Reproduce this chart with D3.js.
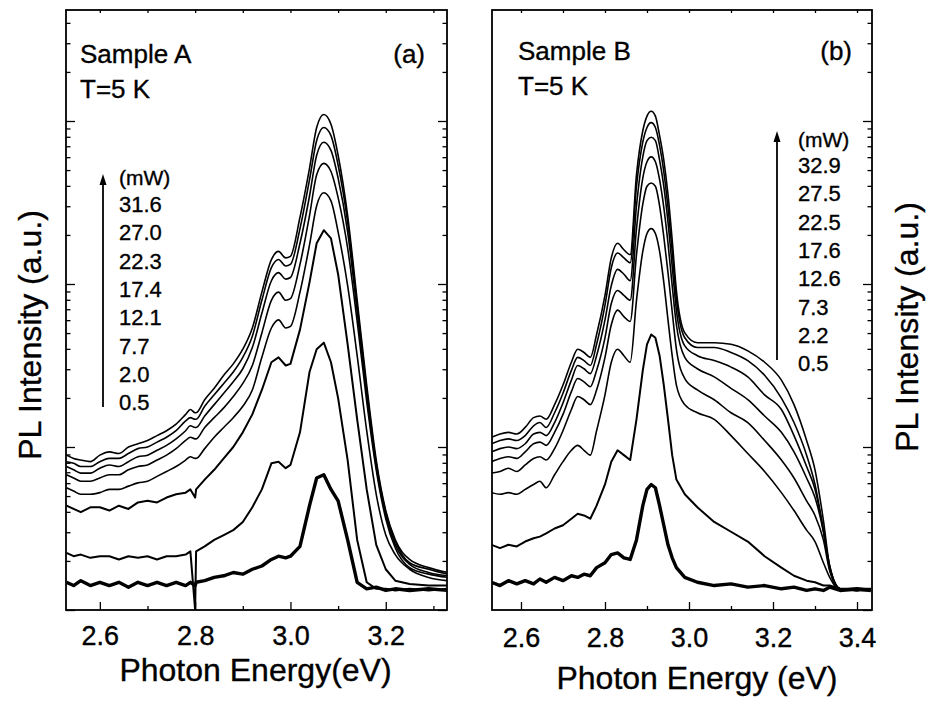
<!DOCTYPE html>
<html>
<head>
<meta charset="utf-8">
<script src="https://cdn.jsdelivr.net/npm/d3@7"></script>
<style>
  body { margin: 0; background: #fff; }
  text { font-family: "Liberation Sans", Arial, Helvetica, sans-serif; fill: #000; stroke: #000; stroke-width: 0.35px; }
</style>
</head>
<body>
<svg id="chart" width="930" height="704"></svg>
<script>
// ####################################################################################
// Data read off the figure : values are log10 of the PL intensity (a.u.)

// Sample A
const energyA = [2.53,2.545,2.56,2.58,2.60,2.62,2.64,2.66,2.68,2.70,2.72,2.74,2.76,2.78,2.79,2.80,2.802,2.82,2.84,2.86,2.88,2.90,2.92,2.94,2.96,2.975,2.99,3.00,3.02,3.04,3.055,3.07,3.085,3.10,3.12,3.14,3.16,3.18,3.20,3.22,3.25,3.29,3.33];
const powersA = ["31.6","27.0","22.3","17.4","12.1","7.7","2.0","0.5"];
const sampleA_31_6 = [0.95,0.93,0.92,0.91,0.95,0.97,0.96,1.00,1.02,1.04,1.07,1.10,1.14,1.20,1.23,1.21,1.21,1.29,1.36,1.44,1.51,1.60,1.73,1.95,2.15,2.20,2.16,2.17,2.41,2.71,2.96,3.04,2.98,2.79,2.42,1.90,1.38,0.92,0.61,0.43,0.31,0.26,0.23];
const sampleA_27_0 = [0.91,0.90,0.88,0.88,0.91,0.93,0.93,0.96,0.99,1.00,1.03,1.06,1.10,1.16,1.18,1.17,1.17,1.25,1.32,1.39,1.46,1.55,1.68,1.90,2.10,2.15,2.11,2.12,2.34,2.64,2.88,2.96,2.91,2.73,2.38,1.87,1.35,0.90,0.60,0.42,0.29,0.25,0.22];
const sampleA_22_3 = [0.88,0.86,0.84,0.84,0.87,0.89,0.88,0.91,0.94,0.95,0.98,1.01,1.05,1.10,1.13,1.12,1.12,1.19,1.26,1.33,1.40,1.48,1.61,1.82,2.02,2.07,2.03,2.04,2.25,2.54,2.79,2.87,2.82,2.65,2.32,1.83,1.32,0.88,0.58,0.40,0.28,0.23,0.21];
const sampleA_17_4 = [0.83,0.81,0.79,0.79,0.81,0.83,0.83,0.86,0.88,0.89,0.92,0.95,0.99,1.04,1.06,1.05,1.05,1.12,1.18,1.24,1.31,1.39,1.50,1.70,1.90,1.95,1.90,1.91,2.12,2.42,2.67,2.74,2.69,2.53,2.22,1.77,1.28,0.86,0.56,0.38,0.26,0.22,0.20];
const sampleA_12_1 = [0.75,0.73,0.71,0.71,0.72,0.74,0.74,0.76,0.78,0.79,0.82,0.85,0.88,0.92,0.94,0.93,0.93,0.99,1.06,1.12,1.18,1.25,1.35,1.55,1.73,1.78,1.73,1.74,1.95,2.24,2.48,2.56,2.51,2.32,1.99,1.56,1.10,0.71,0.46,0.34,0.25,0.20,0.18];
const sampleA_7_7 = [0.64,0.62,0.60,0.63,0.63,0.61,0.64,0.62,0.66,0.67,0.66,0.69,0.71,0.72,0.74,0.69,0.74,0.80,0.86,0.93,1.00,1.09,1.20,1.35,1.52,1.55,1.50,1.51,1.72,2.01,2.25,2.33,2.28,2.06,1.63,1.17,0.74,0.40,0.25,0.18,0.16,0.15,0.15];
const sampleA_2_0 = [0.35,0.33,0.34,0.32,0.33,0.33,0.31,0.33,0.32,0.33,0.31,0.33,0.33,0.34,0.36,0.00,0.36,0.39,0.43,0.46,0.49,0.54,0.63,0.74,0.90,0.91,0.87,0.89,1.09,1.46,1.60,1.64,1.52,1.30,0.92,0.43,0.17,0.13,0.13,0.12,0.13,0.12,0.13];
const sampleA_0_5 = [0.17,0.15,0.18,0.15,0.17,0.15,0.17,0.14,0.17,0.15,0.17,0.15,0.17,0.15,0.17,0.15,0.17,0.18,0.20,0.21,0.23,0.22,0.25,0.27,0.31,0.33,0.32,0.33,0.39,0.64,0.81,0.83,0.74,0.67,0.43,0.17,0.13,0.14,0.12,0.13,0.12,0.13,0.12];

// Sample B
const energyB = [2.53,2.55,2.57,2.59,2.61,2.63,2.645,2.66,2.68,2.70,2.72,2.735,2.75,2.765,2.78,2.80,2.815,2.83,2.845,2.86,2.875,2.89,2.90,2.91,2.92,2.93,2.94,2.95,2.96,2.97,2.99,3.02,3.06,3.10,3.14,3.18,3.22,3.25,3.28,3.30,3.32,3.335,3.36,3.40,3.433];
const powersB = ["32.9","27.5","22.5","17.6","12.6","7.3","2.2","0.5"];
const sampleB_32_9 = [1.06,1.08,1.09,1.08,1.12,1.18,1.19,1.17,1.26,1.38,1.52,1.60,1.58,1.55,1.69,1.93,2.16,2.25,2.21,2.18,2.67,2.94,3.03,3.06,3.03,2.91,2.76,2.55,2.27,1.96,1.70,1.64,1.64,1.63,1.59,1.52,1.41,1.26,1.04,0.86,0.55,0.27,0.13,0.12,0.13];
const sampleB_27_5 = [1.02,1.04,1.05,1.04,1.07,1.13,1.15,1.12,1.21,1.33,1.47,1.55,1.53,1.50,1.63,1.87,2.10,2.19,2.16,2.13,2.60,2.87,2.96,2.99,2.96,2.85,2.69,2.47,2.20,1.91,1.67,1.61,1.61,1.58,1.53,1.44,1.30,1.15,0.95,0.77,0.49,0.27,0.13,0.12,0.13];
const sampleB_22_5 = [0.97,0.99,1.00,0.99,1.02,1.08,1.09,1.07,1.15,1.27,1.41,1.50,1.48,1.45,1.56,1.78,1.99,2.09,2.06,2.02,2.48,2.78,2.88,2.90,2.88,2.76,2.60,2.38,2.11,1.84,1.62,1.56,1.53,1.49,1.43,1.32,1.23,1.07,0.88,0.74,0.49,0.26,0.13,0.12,0.12];
const sampleB_17_6 = [0.91,0.93,0.94,0.93,0.97,1.02,1.03,1.01,1.09,1.20,1.34,1.42,1.40,1.37,1.47,1.67,1.88,1.96,1.93,1.90,2.34,2.65,2.75,2.78,2.75,2.64,2.47,2.25,1.99,1.75,1.55,1.48,1.43,1.36,1.29,1.19,1.09,0.97,0.81,0.69,0.48,0.25,0.13,0.12,0.13];
const sampleB_12_6 = [0.84,0.85,0.87,0.85,0.89,0.93,0.94,0.92,0.99,1.10,1.23,1.31,1.29,1.26,1.35,1.55,1.75,1.84,1.80,1.77,2.18,2.49,2.60,2.62,2.60,2.48,2.29,2.07,1.83,1.60,1.42,1.35,1.29,1.21,1.15,1.04,0.92,0.81,0.67,0.58,0.43,0.24,0.13,0.12,0.12];
const sampleB_7_3 = [0.72,0.71,0.72,0.71,0.74,0.77,0.79,0.75,0.83,0.91,0.98,1.01,0.98,0.95,1.10,1.32,1.52,1.60,1.56,1.52,1.90,2.20,2.31,2.34,2.31,2.20,2.01,1.78,1.56,1.38,1.26,1.21,1.17,1.07,0.96,0.85,0.72,0.61,0.49,0.42,0.29,0.20,0.12,0.12,0.13];
const sampleB_2_2 = [0.40,0.38,0.40,0.39,0.42,0.44,0.45,0.47,0.50,0.52,0.56,0.59,0.58,0.56,0.64,0.77,0.91,0.98,0.95,0.92,1.17,1.47,1.63,1.69,1.67,1.56,1.38,1.17,0.95,0.80,0.71,0.63,0.54,0.48,0.42,0.33,0.26,0.21,0.18,0.17,0.15,0.15,0.13,0.13,0.13];
const sampleB_0_5 = [0.17,0.15,0.18,0.16,0.18,0.16,0.19,0.17,0.20,0.18,0.21,0.20,0.22,0.21,0.26,0.29,0.34,0.35,0.32,0.31,0.43,0.64,0.74,0.77,0.75,0.64,0.52,0.40,0.32,0.26,0.20,0.17,0.15,0.16,0.14,0.15,0.13,0.14,0.12,0.13,0.12,0.14,0.12,0.13,0.12];

// tick labels
const ticksA = [2.6, 2.8, 3.0, 3.2];
const minorA = [2.7, 2.9, 3.1, 3.3];
const ticksB = [2.6, 2.8, 3.0, 3.2, 3.4];
const minorB = [2.7, 2.9, 3.1, 3.3];

// ####################################################################################
// Shared y scale (log, no labels)

var svg = d3.select("#chart");
var plotTop = 10, plotBottom = 610;

var yScale = d3.scaleLog()
  .domain([1, Math.pow(10, 3.681)])
  .range([plotBottom, plotTop]);

var yMajor = [1, 10, 100, 1000];
var yMinor = yScale.ticks().filter(t => Math.abs(Math.log10(t) - Math.round(Math.log10(t))) > 1e-6);

function drawPanel(p) {

  var xScale = d3.scaleLinear()
    .domain(p.xDomain)
    .range([p.left, p.right]);

  var g = svg.append("g").attr("class", "panel_" + p.tag);

  svg.append("clipPath").attr("id", "clip_" + p.tag)
    .append("rect")
      .attr("x", p.left).attr("y", plotTop)
      .attr("width", p.right - p.left).attr("height", plotBottom - plotTop);

  // ###########################################
  // spectra
  var line = d3.line()
    .x((d, i) => xScale(p.energy[i]))
    .y(d => yScale(Math.pow(10, d)));

  g.append("g")
    .attr("clip-path", `url(#clip_${p.tag})`)
    .selectAll("path.spectrum")
    .data(p.series)
    .join("path")
      .attr("class", "spectrum")
      .attr("d", s => line.curve(s.noise > 0 ? d3.curveLinear : d3.curveMonotoneX)(s.values))
      .attr("fill", "none")
      .attr("stroke", "#000")
      .attr("stroke-linejoin", "round")
      .attr("stroke-width", s => s.noise > 1 ? 3.4 : (s.noise > 0 ? 2.0 : 1.6));

  // ###########################################
  // axes, ticks pointing into the frame
  var axisFont = a => a.attr("font-family", null).attr("font-size", null);

  g.append("g")
    .attr("transform", `translate(0,${plotBottom})`)
    .call(d3.axisBottom(xScale).tickValues(p.ticks).tickSizeInner(-8).tickSizeOuter(0)
      .tickPadding(p.labelPad).tickFormat(d3.format(".1f")))
    .call(axisFont)
    .call(a => a.select(".domain").remove())
    .selectAll("text").style("font-size", "27px");

  g.append("g")
    .attr("transform", `translate(0,${plotBottom})`)
    .call(d3.axisBottom(xScale).tickValues(p.minor).tickSizeInner(-4).tickSizeOuter(0).tickFormat(""))
    .call(a => a.select(".domain").remove());

  g.append("g")
    .attr("transform", `translate(0,${plotTop})`)
    .call(d3.axisTop(xScale).tickValues(p.ticks.concat(p.minor)).tickSizeInner(-3).tickSizeOuter(0).tickFormat(""))
    .call(a => a.select(".domain").remove());

  var ySides = p.leftTicks ? ["left", "right"] : ["right"];
  ySides.forEach(side => {
    var xPos = side === "left" ? p.left : p.right;
    var mk = side === "left" ? d3.axisLeft : d3.axisRight;
    g.append("g")
      .attr("transform", `translate(${xPos},0)`)
      .call(mk(yScale).tickValues(yMajor).tickSizeInner(-9).tickSizeOuter(0).tickFormat(""))
      .call(a => a.select(".domain").remove());
    g.append("g")
      .attr("transform", `translate(${xPos},0)`)
      .call(mk(yScale).tickValues(yMinor).tickSizeInner(-4.5).tickSizeOuter(0).tickFormat(""))
      .call(a => a.select(".domain").remove());
  });

  g.selectAll(".tick line").attr("stroke", "#000").attr("stroke-width", 1.3);

  // frame
  g.append("rect")
    .attr("x", p.left).attr("y", plotTop)
    .attr("width", p.right - p.left).attr("height", plotBottom - plotTop)
    .attr("fill", "none").attr("stroke", "#000").attr("stroke-width", 1.8);

  // ###########################################
  // texts
  g.append("text").attr("x", p.left + p.sampleDx).attr("y", p.sampleY)
    .style("font-size", "26px").text(p.sample);
  g.append("text").attr("x", p.left + p.sampleDx).attr("y", p.sampleY + 35)
    .style("font-size", "26px").text("T=5 K");
  g.append("text").attr("x", p.tagX).attr("y", p.sampleY)
    .attr("text-anchor", "end").style("font-size", "26px").text(p.tag === "a" ? "(a)" : "(b)");

  g.append("text")
    .attr("x", (p.left + p.right) / 2 + p.xLabelDx).attr("y", p.xLabelY)
    .attr("text-anchor", "middle").style("font-size", "32px")
    .text(p.xLabel);

  g.append("text")
    .attr("transform", `translate(${p.yLabelX},${p.yLabelY}) rotate(-90)`)
    .attr("text-anchor", "middle").style("font-size", "32px")
    .text("PL Intensity (a.u.)");

  // power legend with arrow
  var lg = p.legend;
  g.append("line")
    .attr("x1", lg.arrowX).attr("x2", lg.arrowX)
    .attr("y1", lg.arrowBottom).attr("y2", lg.arrowTop + 8)
    .attr("stroke", "#000").attr("stroke-width", 1.8);
  g.append("path")
    .attr("d", `M${lg.arrowX},${lg.arrowTop} L${lg.arrowX - 3.5},${lg.arrowTop + 11} L${lg.arrowX + 3.5},${lg.arrowTop + 11} Z`)
    .attr("fill", "#000");
  g.append("text").attr("x", lg.textX).attr("y", lg.unitY)
    .style("font-size", "21px").text("(mW)");
  g.selectAll("text.power")
    .data(p.powers)
    .join("text")
      .attr("class", "power")
      .attr("x", lg.textX)
      .attr("y", (d, i) => lg.firstY + i * 28.3)
      .style("font-size", "22px")
      .text(d => d);
}

// ####################################################################################
// Panel (a)
drawPanel({
  tag: "a",
  left: 66, right: 447,
  xDomain: [2.529, 3.3285],
  energy: energyA,
  powers: powersA,
  series: [
    {values: sampleA_31_6, noise: 0}, {values: sampleA_27_0, noise: 0},
    {values: sampleA_22_3, noise: 0}, {values: sampleA_17_4, noise: 0},
    {values: sampleA_12_1, noise: 0}, {values: sampleA_7_7, noise: 1},
    {values: sampleA_2_0, noise: 1}, {values: sampleA_0_5, noise: 2}
  ],
  ticks: ticksA, minor: minorA, labelPad: 16,
  leftTicks: true,
  sample: "Sample A", sampleDx: 14, sampleY: 63, tagX: 425,
  xLabel: "Photon Energy(eV)", xLabelDx: -1, xLabelY: 681,
  yLabelX: 41, yLabelY: 335,
  legend: {arrowX: 103, arrowTop: 174, arrowBottom: 407, textX: 119, unitY: 185, firstY: 212}
});

// Panel (b)
drawPanel({
  tag: "b",
  left: 492, right: 872,
  xDomain: [2.531, 3.4357],
  energy: energyB,
  powers: powersB,
  series: [
    {values: sampleB_32_9, noise: 0}, {values: sampleB_27_5, noise: 0},
    {values: sampleB_22_5, noise: 0}, {values: sampleB_17_6, noise: 0},
    {values: sampleB_12_6, noise: 0}, {values: sampleB_7_3, noise: 0},
    {values: sampleB_2_2, noise: 1}, {values: sampleB_0_5, noise: 2}
  ],
  ticks: ticksB, minor: minorB, labelPad: 18,
  leftTicks: false,
  sample: "Sample B", sampleDx: 26, sampleY: 60, tagX: 852,
  xLabel: "Photon Energy (eV)", xLabelDx: 15, xLabelY: 689,
  yLabelX: 918, yLabelY: 327,
  legend: {arrowX: 777, arrowTop: 131, arrowBottom: 360, textX: 798, unitY: 147, firstY: 173}
});
</script>
</body>
</html>
